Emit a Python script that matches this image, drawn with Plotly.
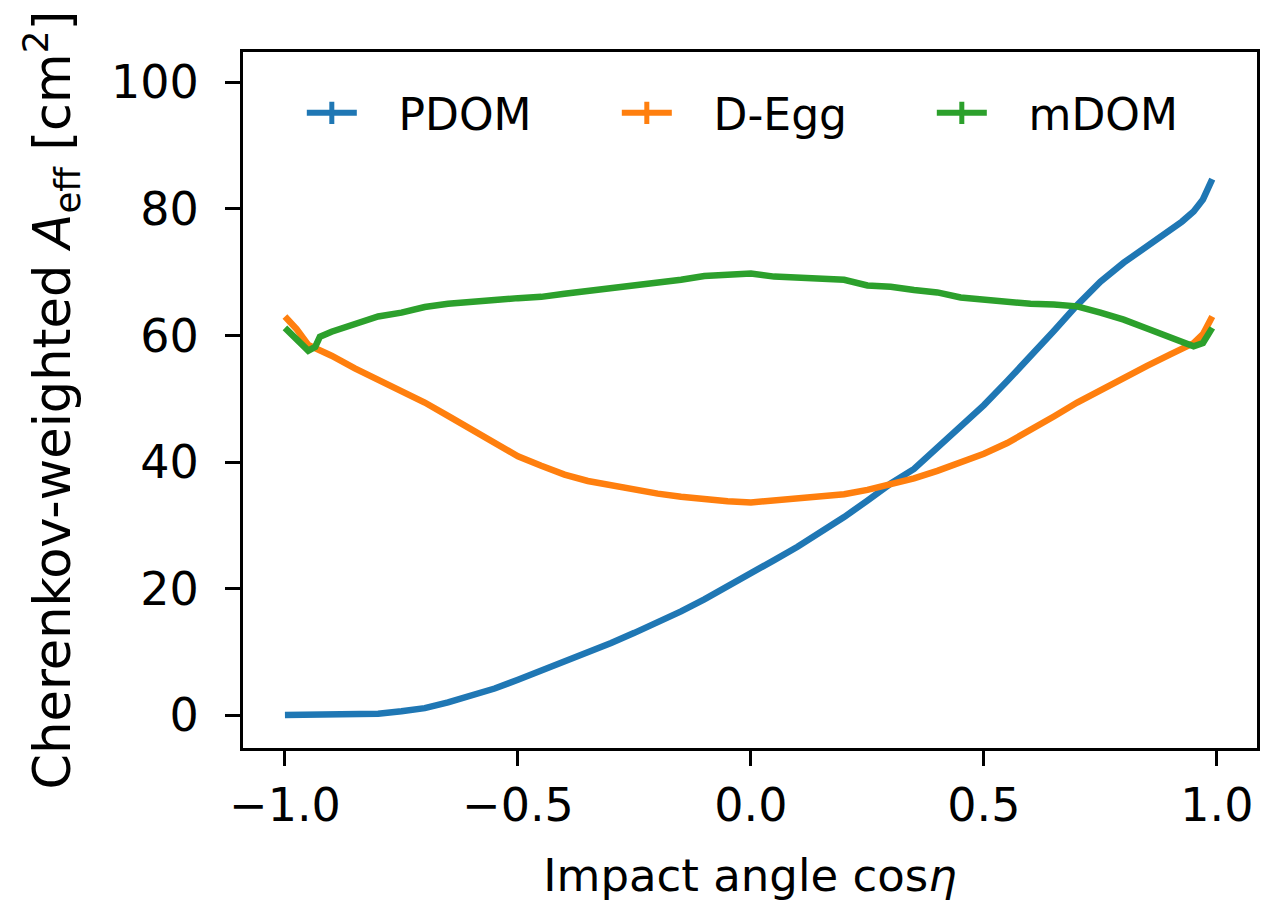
import plotly.graph_objects as go

# impact angle cos(eta)
cos_eta = [-1.0, -0.975, -0.95, -0.935, -0.925, -0.9, -0.85, -0.8, -0.75, -0.7, -0.65, -0.6,
           -0.55, -0.5, -0.45, -0.4, -0.35, -0.3, -0.25, -0.2, -0.15, -0.1, -0.05, 0.0,
           0.05, 0.1, 0.15, 0.2, 0.25, 0.3, 0.35, 0.4, 0.45, 0.5, 0.55, 0.6, 0.65,
           0.7, 0.75, 0.8, 0.85, 0.9, 0.925, 0.95, 0.97, 0.99]

pdom = [0.0, 0.0, 0.0, 0.0, 0.0, 0.05, 0.1, 0.2, 0.6, 1.1, 2.0, 3.0,
        4.2, 5.6, 7.0, 8.4, 9.9, 11.4, 13.0, 14.6, 16.4, 18.3, 20.3, 22.4,
        24.5, 26.6, 28.9, 31.3, 33.9, 36.6, 38.9, 42.3, 45.7, 49.0, 52.8, 56.6, 60.7,
        64.8, 68.5, 71.5, 74.0, 76.8, 78.0, 79.6, 81.5, 84.7]

degg = [63.0, 61.0, 58.5, 58.0, 57.5, 56.8, 54.8, 53.0, 51.2, 49.4, 47.3, 45.2,
        43.0, 40.9, 39.4, 38.0, 37.0, 36.3, 35.6, 35.0, 34.5, 34.1, 33.8, 33.6,
        33.9, 34.3, 34.5, 34.9, 35.6, 36.4, 37.4, 38.6, 39.9, 41.3, 43.0, 45.0, 47.2,
        49.4, 51.4, 53.4, 55.2, 57.0, 57.8, 58.8, 60.2, 63.0]

mdom = [61.2, 59.3, 57.6, 58.2, 59.8, 60.6, 61.9, 63.0, 63.6, 64.5, 65.0, 65.2,
        65.6, 65.9, 66.1, 66.6, 67.0, 67.6, 67.9, 68.3, 68.8, 69.4, 69.5, 69.8,
        69.3, 69.2, 69.0, 68.8, 67.9, 67.7, 67.2, 66.8, 66.0, 65.6, 65.2, 65.0, 64.9,
        64.6, 63.6, 62.5, 61.1, 59.8, 59.0, 58.3, 58.8, 61.2]

series_names = ["PDOM", "D-Egg", "mDOM"]
series_values = [pdom, degg, mdom]
colors = ["#1f77b4", "#ff7f0e", "#2ca02c"]

x_ticks = [-1.0, -0.5, 0.0, 0.5, 1.0]
y_ticks = [0, 20, 40, 60, 80, 100]

FONT = "DejaVu Sans"
GAP = "\u00a0\u00a0\u2009"

fig = go.Figure()
for name, vals, col in zip(series_names, series_values, colors):
    fig.add_trace(go.Scatter(x=cos_eta, y=vals, mode="lines", name=name,
                             line=dict(color=col, width=6.5), showlegend=False))
# legend entries (errorbar-style "+" handles)
for name, col in zip(series_names, colors):
    fig.add_trace(go.Scatter(x=[None], y=[None], mode="lines+markers",
                             name=GAP + name,
                             line=dict(color=col, width=6),
                             marker=dict(symbol="line-ns", size=16,
                                         line=dict(color=col, width=5), color=col)))

axis_common = dict(showline=True, linecolor="black", linewidth=3, mirror=True,
                   ticks="outside", ticklen=15, tickwidth=3, tickcolor="black",
                   showgrid=False, zeroline=False, automargin=False,
                   tickfont=dict(family=FONT, size=46, color="black"))

fig.update_xaxes(range=[-1.09, 1.086], tickvals=x_ticks, tickformat=".1f",
                 ticklabelstandoff=0,
                 title=dict(text="Impact angle cos<i>η</i>", standoff=39,
                            font=dict(family=FONT, size=45, color="black")),
                 **axis_common)
fig.update_yaxes(range=[-5.2, 104.8], tickvals=y_ticks,
                 ticklabelstandoff=17,
                 title=dict(text="Cherenkov-weighted <i>A</i><sub>eff</sub> [cm<sup>2</sup>]",
                            standoff=25,
                            font=dict(family=FONT, size=51, color="black")),
                 **axis_common)

fig.update_layout(
    width=1264, height=894,
    margin=dict(l=235, r=15, t=44, b=154),
    paper_bgcolor="white", plot_bgcolor="white",
    font=dict(family=FONT, color="black"),
    legend=dict(orientation="h", x=0.058, y=0.912, xanchor="left", yanchor="middle",
                bgcolor="rgba(0,0,0,0)", font=dict(family=FONT, size=44, color="black"),
                entrywidth=250, itemwidth=50),
)

fig.write_html("out.html")
